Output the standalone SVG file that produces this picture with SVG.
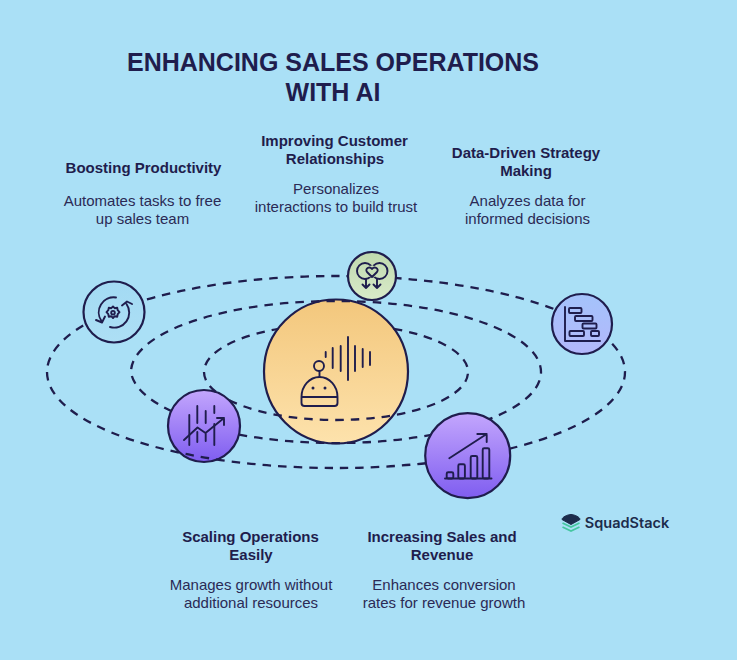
<svg xmlns="http://www.w3.org/2000/svg" width="737" height="660" viewBox="0 0 737 660">
<style>
text{font-family:"Liberation Sans",Arial,sans-serif;text-anchor:middle;fill:#1f1d4d}
.t{font-size:25px;font-weight:700}
.h{font-size:15px;font-weight:700}
.d{font-size:15px;fill:#2b2a55}
.orbit{fill:none;stroke:#1f1d4d;stroke-width:2.3;stroke-dasharray:8.500 7}
.ring{stroke:#1f1d4d;stroke-width:2.2}
.i{fill:none;stroke:#1f1d4d;stroke-width:1.900;stroke-linecap:round;stroke-linejoin:round}
</style>
<defs>
<linearGradient id="gSun" x1="0" y1="0" x2="0" y2="1"><stop offset="0" stop-color="#f3c77c"/><stop offset="1" stop-color="#fde2ac"/></linearGradient>
<linearGradient id="gGreen" x1="0" y1="0" x2="0" y2="1"><stop offset="0" stop-color="#c0d9ae"/><stop offset="1" stop-color="#d9ebc9"/></linearGradient>
<linearGradient id="gPurple" x1="0" y1="0" x2="0" y2="1"><stop offset="0" stop-color="#c3a6fd"/><stop offset="1" stop-color="#7f5df0"/></linearGradient>
<linearGradient id="gBlue" x1="0" y1="0" x2="0" y2="1"><stop offset="0" stop-color="#a4c3fb"/><stop offset="1" stop-color="#b3b8fb"/></linearGradient>
<linearGradient id="gSky" x1="0" y1="0" x2="0" y2="1"><stop offset="0" stop-color="#a3daf3"/><stop offset="1" stop-color="#addff5"/></linearGradient>
</defs>
<rect width="737" height="660" fill="#aae0f6"/>
<g id="title"><text class="t" x="333" y="71">ENHANCING SALES OPERATIONS</text><text class="t" x="333" y="101">WITH AI</text></g>
<g id="center">
<circle class="ring" cx="336" cy="371.500" r="72" fill="url(#gSun)"/>
<g class="i">
<path d="M301.500 403v-6c0-11 8-20 18-20s18 9 18 20v6q0 3-3 3h-30q-3 0-3-3zM301.500 397h36"/>
<path d="M319.500 377v-6"/><circle cx="319" cy="366" r="5"/>
<path d="M325.700 352v5M332.700 348v20M340.700 346v25M348 337v43M355 346v25M362.700 349v18M370 352v13"/>
</g>
<circle cx="313" cy="388" r="1.500" fill="#1f1d4d"/><circle cx="325" cy="388" r="1.500" fill="#1f1d4d"/>
</g>
<g id="node-scaling">
<circle class="ring" cx="204" cy="426" r="36" fill="url(#gPurple)"/>
<g class="i"><path d="M189.300 415v30M197.300 406v17M197.300 432v10M205.700 411v12M205.700 434v7M214.300 406v7M214.300 424v21"/><path d="M184 440l13.500-12.500 8 5.500 18.500-15M217 418h7v7"/></g>
<text class="h" x="250.500" y="542">Scaling Operations</text><text class="h" x="251" y="560">Easily</text>
<text class="d" x="251" y="590">Manages growth without</text><text class="d" x="251" y="608">additional resources</text>
</g>
<g id="connectors">
<path class="orbit" d="M47 372A289 96 0 1 0 625 372A289 96 0 1 0 47 372z"/>
<path class="orbit" d="M239 434.600A205 71 0 0 0 541 372A205 71 0 0 0 131 372A205 71 0 0 0 171.300 411"/>
<path class="orbit" d="M393.600 328.800A132 48 0 0 1 468 372A132 48 0 0 1 229 400.100M216 392A132 48 0 0 1 278.400 328.800"/>
</g>
<g id="node-productivity">
<text class="h" x="143.500" y="173">Boosting Productivity</text>
<text class="d" x="142.500" y="206">Automates tasks to free</text><text class="d" x="142.500" y="224">up sales team</text>
<circle class="ring" cx="114" cy="312" r="30.500" fill="url(#gSky)"/>
<g class="i"><path d="M116 297.500A15 15 0 0 0 101.500 321M96 320l6 2.500 3-6"/><path d="M110 327A15 15 0 0 0 126.500 304M122 305.500l5-4 5 2.500"/>
<path d="M113 306.500l1.700 1.700 2.500-.5.500 2.500 1.800 2-1.800 2-.5 2.500-2.500-.5-1.700 1.800-1.700-1.800-2.500.5-.5-2.500-1.800-2 1.800-2 .5-2.500 2.500.5z"/><circle cx="113" cy="312.700" r="1.800"/></g>
</g>
<g id="node-relationships">
<text class="h" x="334.500" y="146">Improving Customer</text><text class="h" x="335" y="164">Relationships</text>
<text class="d" x="336" y="194">Personalizes</text><text class="d" x="336" y="212">interactions to build trust</text>
<circle class="ring" cx="372" cy="276" r="24" fill="url(#gGreen)"/>
<g class="i"><circle cx="365" cy="271" r="8"/><circle cx="379.500" cy="271" r="8"/>
<circle cx="372" cy="271.500" r="6" fill="#c8dfb7" stroke="none"/>
<path d="M372 277l-5-5c-2.500-3 2.500-6.500 5-3c2.500-3.500 7.500 0 5 3z"/><path d="M366 279v9M377 279v9M362.500 284.500l3.500 3.500 3.500-3.500M373.500 284.500l3.500 3.500 3.500-3.500"/></g>
</g>
<g id="node-strategy">
<text class="h" x="526" y="158">Data-Driven Strategy</text><text class="h" x="526" y="176">Making</text>
<text class="d" x="527.500" y="206">Analyzes data for</text><text class="d" x="527.500" y="224">informed decisions</text>
<circle class="ring" cx="582" cy="324" r="30" fill="url(#gBlue)"/>
<g class="i"><path d="M565 307v34h35"/><rect x="569" y="308" width="12.500" height="5" rx="1"/><rect x="575" y="316" width="17.500" height="5" rx="1"/><rect x="582.500" y="323.500" width="14" height="5" rx="1"/><rect x="569.500" y="331" width="14.500" height="5" rx="1"/><rect x="591" y="331" width="8" height="5" rx="1"/></g>
</g>
<g id="node-sales">
<circle class="ring" cx="467.700" cy="455.700" r="42.500" fill="url(#gPurple)"/>
<g class="i"><path d="M445 478.500h46.500"/><rect x="446.700" y="472.300" width="6.600" height="6.200" rx="1.500"/><rect x="458.300" y="464.300" width="6.600" height="14.200" rx="1.500"/><rect x="470.700" y="456" width="6.600" height="22.500" rx="1.500"/><rect x="482.700" y="448.300" width="6.600" height="30.200" rx="1.500"/><path d="M449.300 458.300l37.400-24.300M477.300 434h9.400v8"/></g>
<text class="h" x="442" y="542">Increasing Sales and</text><text class="h" x="442" y="560">Revenue</text>
<text class="d" x="444" y="590">Enhances conversion</text><text class="d" x="444" y="608">rates for revenue growth</text>
</g>
<g id="logo">
<path d="M571 514.500c3 0 9 2.500 9 5l-9 5-9-5c0-2.500 6-5 9-5z" fill="#1c2c4c" stroke="#1c2c4c" stroke-linejoin="round"/>
<path d="M562.500 523l8.500 4 8.500-4M562.500 527l8.500 4 8.500-4" fill="none" stroke="#45c6a0" stroke-width="1.800"/>
<text x="627" y="528" style="font-family:Inter,'Liberation Sans',sans-serif;font-size:14.500px;font-weight:600;fill:#1c2c4c">SquadStack</text>
</g>
</svg>
